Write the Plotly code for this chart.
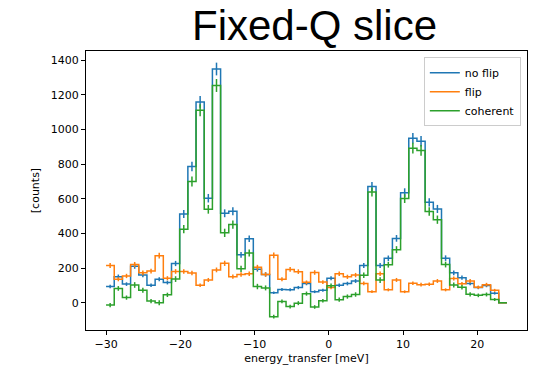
import numpy as np
import plotly.graph_objects as go

# bin edges of the energy_transfer axis (meV): 49 equal bins from -30 to 24
bin_lo, bin_hi, n_bins = -30.0, 24.0, 49

no_flip = [94, 151, 108, 211, 160, 102, 136, 117, 227, 513,
           787, 1160, 604, 1350, 517, 529, 277, 370, 194, 164,
           58, 77, 75, 88, 112, 64, 72, 142, 102, 111,
           126, 215, 672, 215, 257, 372, 636, 950, 933, 580,
           542, 258, 173, 145, 112, 88, 100, 55, 0]

flip = [215, 136, 155, 221, 173, 183, 272, 142, 181, 181,
        172, 102, 132, 190, 228, 151, 164, 168, 205, 164,
        274, 136, 193, 180, 118, 175, 120, 88, 168, 150,
        160, 112, 64, 168, 75, 132, 64, 113, 105, 107,
        126, 75, 140, 110, 126, 90, 105, 72, 0]

coherent = [-13, 83, 30, 103, 72, 10, 0, 46, 137, 425,
            701, 1112, 540, 1255, 404, 452, 196, 288, 94, 86,
            -80, 8, -22, -2, 53, -24, 12, 98, 18, 36,
            48, 159, 640, 131, 220, 307, 602, 893, 880, 527,
            480, 221, 103, 90, 49, 43, 48, 19, 0]

x_ticks = [-30, -20, -10, 0, 10, 20]
y_ticks = [0, 200, 400, 600, 800, 1000, 1200, 1400]

edges = np.linspace(bin_lo, bin_hi, n_bins + 1)
centers = 0.5 * (edges[:-1] + edges[1:])

nf = np.array(no_flip, float)
fl = np.array(flip, float)
co = np.array(coherent, float)
err_nf = np.sqrt(np.abs(nf))
err_fl = np.sqrt(np.abs(fl))
err_co = np.sqrt(np.abs(nf) + np.abs(fl) / 4.0)

series = [
    ("no flip", nf, err_nf, "#1f77b4"),
    ("flip", fl, err_fl, "#ff7f0e"),
    ("coherent", co, err_co, "#2ca02c"),
]

fig = go.Figure()
for name, y, e, col in series:
    fig.add_trace(go.Scatter(
        x=edges, y=np.append(y, y[-1]), mode="lines", line_shape="hv",
        line=dict(color=col, width=1.5), name=name, showlegend=True))
    fig.add_trace(go.Scatter(
        x=centers, y=y, mode="markers",
        marker=dict(size=1, color="rgba(0,0,0,0)"),
        error_y=dict(type="data", array=e, visible=True, color=col,
                     thickness=1.5, width=0),
        showlegend=False, hoverinfo="skip"))

W, H = 542, 375
L, R, T, B = 86, 15, 51, 40

axis_common = dict(
    showline=True, mirror=True, linecolor="black", linewidth=1,
    ticks="outside", ticklen=4, tickwidth=1, tickcolor="black",
    showgrid=False, zeroline=False,
    tickfont=dict(family="DejaVu Sans", size=11, color="black"),
)

fig.update_layout(
    width=W, height=H,
    margin=dict(l=L, r=R, t=T, b=B),
    paper_bgcolor="white", plot_bgcolor="white",
    xaxis=dict(range=[-32.7, 26.7], tickvals=x_ticks,
               title=dict(text="energy_transfer [meV]", standoff=4,
                          font=dict(family="DejaVu Sans", size=11, color="black")),
               **axis_common),
    yaxis=dict(range=[-157, 1454], tickvals=y_ticks,
               title=dict(text="[counts]", standoff=8,
                          font=dict(family="DejaVu Sans", size=11, color="black")),
               **axis_common),
    legend=dict(x=0.986, y=0.978, xanchor="right", yanchor="top",
                bgcolor="rgba(255,255,255,0.8)", bordercolor="#cccccc",
                borderwidth=1, itemwidth=30,
                font=dict(family="DejaVu Sans", size=11, color="black"),
                tracegroupgap=0),
    annotations=[dict(text="Fixed-Q slice", xref="paper", yref="paper",
                      x=(314 - L) / (W - L - R), y=1 + (51 - 25) / (H - T - B),
                      xanchor="center", yanchor="middle", showarrow=False,
                      font=dict(family="Liberation Sans", size=42, color="black"))],
    showlegend=True,
)

fig.write_html("out.html")
